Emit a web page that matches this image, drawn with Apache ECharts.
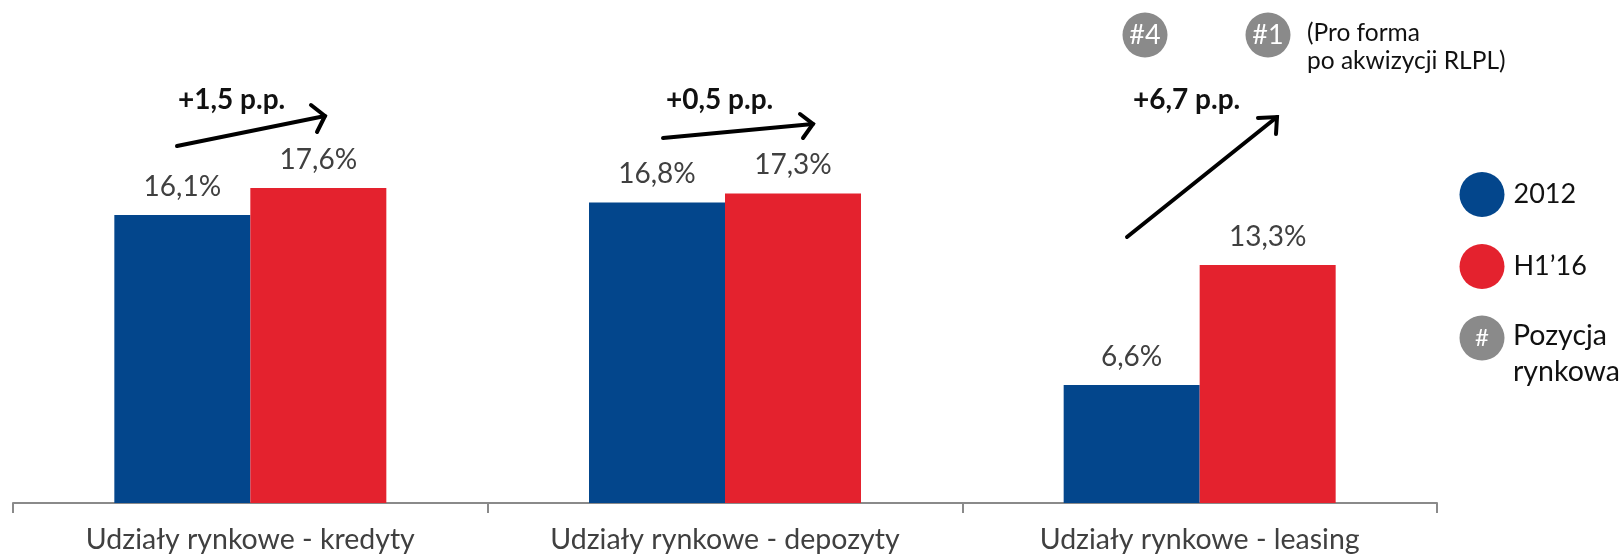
<!DOCTYPE html>
<html>
<head>
<meta charset="utf-8">
<style>
html, body { margin: 0; padding: 0; background: #fff; }
#chart { width: 1624px; height: 555px; }
</style>
<script src="https://cdn.jsdelivr.net/npm/echarts@6/dist/echarts.min.js"></script>
</head>
<body>
<div id="chart"></div>
<script>
var categories = ['Udziały rynkowe - kredyty', 'Udziały rynkowe - depozyty', 'Udziały rynkowe - leasing'];
var values2012 = [16.1, 16.8, 6.6];
var valuesH116 = [17.6, 17.3, 13.3];
var seriesNames = ['2012', 'H1’16'];
var deltaLabels = ['+1,5 p.p.', '+0,5 p.p.', '+6,7 p.p.'];
var rankLabels = ['#4', '#1'];
var rankNote = '(Pro forma\npo akwizycji RLPL)';
var positionLegend = 'Pozycja\nrynkowa';

var fontName = 'Lato';
var blue = '#03468c', red = '#e4222e', grey = '#8a8a8a', textColor = '#404040';

function arrow(x1, y1, x2, y2, hx1, hy1, hx2, hy2) {
    var style = { stroke: '#000', lineWidth: 4, lineCap: 'round', fill: null };
    return [
        { type: 'line', shape: { x1: x1, y1: y1, x2: x2, y2: y2 }, style: style },
        { type: 'polyline', shape: { points: [[hx1, hy1], [x2, y2], [hx2, hy2]] }, style: style }
    ];
}
function badge(cx, cy, text, size) {
    return {
        type: 'circle', shape: { cx: cx, cy: cy, r: 22.5 }, style: { fill: grey },
        textContent: { style: { text: text, fill: '#fff', font: size + 'px ' + fontName } },
        textConfig: { position: 'inside' }
    };
}
function note(x, y, text, size, weight, lineHeight) {
    return {
        type: 'text', x: x, y: y,
        style: {
            text: text, fill: '#111', font: (weight || 'normal') + ' ' + size + 'px ' + fontName,
            lineHeight: lineHeight, verticalAlign: 'middle'
        }
    };
}

var myChart = echarts.init(document.getElementById('chart'));
myChart.setOption({
    animation: false,
    grid: { left: 13, right: 187, top: 2, bottom: 52 },
    legend: {
        left: 1459.5, top: 172, orient: 'vertical', icon: 'circle',
        itemWidth: 45, itemHeight: 45, itemGap: 27, selectedMode: false, padding: 0,
        textStyle: { fontFamily: fontName, fontSize: 27, color: '#111', padding: [0, 0, 0, 4] }
    },
    xAxis: {
        type: 'category', data: categories,
        axisLine: { lineStyle: { color: grey, width: 2 } },
        axisTick: { show: true, length: 10, lineStyle: { color: grey, width: 2 } },
        axisLabel: { fontFamily: fontName, fontSize: 28.5, color: textColor, margin: 22, interval: 0 }
    },
    yAxis: { type: 'value', min: 0, max: 28, show: false, splitLine: { show: false } },
    series: [values2012, valuesH116].map(function (vals, i) {
        return {
            name: seriesNames[i], type: 'bar', data: vals, barWidth: 136, barGap: 0,
            itemStyle: { color: i ? red : blue },
            label: {
                show: true, position: 'top', distance: 14, fontFamily: fontName, fontSize: 28, color: textColor,
                formatter: function (p) { return p.value.toFixed(1).replace('.', ',') + '%'; }
            }
        };
    }),
    graphic: [].concat(
        arrow(177, 146, 325, 116, 311, 105, 317, 132),
        arrow(663, 138, 813, 124, 800, 114, 803, 138),
        arrow(1127, 237, 1277, 117, 1258, 118, 1276, 134),
        [
            note(178, 100, deltaLabels[0], 28, 'bold'),
            note(666, 100, deltaLabels[1], 28, 'bold'),
            note(1133, 100, deltaLabels[2], 28, 'bold'),
            badge(1145, 35, rankLabels[0], 27),
            badge(1268, 35, rankLabels[1], 27),
            note(1307, 47, rankNote, 24.5, 'normal', 28),
            badge(1482, 338, '#', 24),
            note(1513, 354, positionLegend, 28.5, 'normal', 36)
        ]
    )
});
</script>
</body>
</html>
